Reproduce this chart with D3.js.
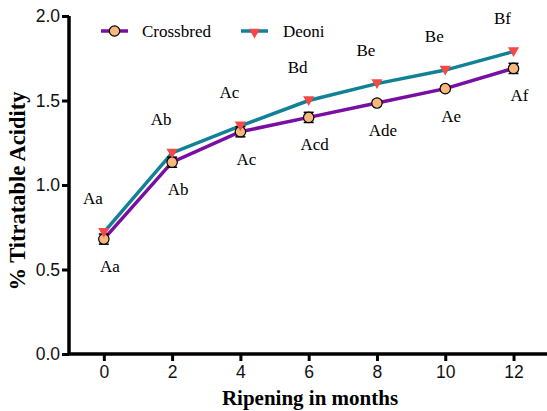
<!DOCTYPE html>
<html>
<head>
<meta charset="utf-8">
<script src="https://cdn.jsdelivr.net/npm/d3@7"></script>
<style>
  body { margin: 0; background: #fff; }
  svg { display: block; }
</style>
</head>
<body>
<div id="okvir"></div>
<script>
// data
const months = [0, 2, 4, 6, 8, 10, 12]
const crossbred = [0.68, 1.135, 1.315, 1.40, 1.485, 1.57, 1.69]
const crossbredErr = [0.03, 0.03, 0.03, 0.03, 0.015, 0.015, 0.03]
const deoni = [0.72, 1.19, 1.35, 1.50, 1.60, 1.68, 1.79]
const crossbredLabels = ["Aa", "Ab", "Ac", "Acd", "Ade", "Ae", "Af"]
const deoniLabels = ["Aa", "Ab", "Ac", "Bd", "Be", "Be", "Bf"]
const yTicks = [0.0, 0.5, 1.0, 1.5, 2.0]
const xTicks = [0, 2, 4, 6, 8, 10, 12]

const sirina = 547, visina = 411
const margine = { top: 16, right: 0, bottom: 57, left: 69 }
const grSirina = sirina - margine.left - margine.right
const grVisina = visina - margine.top - margine.bottom

const okvir = d3.select("#okvir").append("svg")
  .attr("width", sirina)
  .attr("height", visina)

const granice = okvir.append("g")
  .attr("transform", `translate(${margine.left},${margine.top})`)

const xSkala = d3.scaleLinear().domain([-1.02, 12.98]).range([0, grSirina])
const ySkala = d3.scaleLinear().domain([0, 2]).range([grVisina, 0])

const boja1 = "#7a0ea3"
const boja2 = "#118196"

// lines
const linija = d3.line()
  .x((d, i) => xSkala(months[i]))
  .y(d => ySkala(d))

granice.append("path").datum(deoni)
  .attr("d", linija).attr("fill", "none")
  .attr("stroke", boja2).attr("stroke-width", 3.5)
granice.append("path").datum(crossbred)
  .attr("d", linija).attr("fill", "none")
  .attr("stroke", boja1).attr("stroke-width", 3.5)

// error bars
const greske = granice.append("g")
crossbred.forEach((v, i) => {
  const x = xSkala(months[i])
  const y0 = ySkala(v - crossbredErr[i]), y1 = ySkala(v + crossbredErr[i])
  greske.append("line").attr("x1", x).attr("x2", x).attr("y1", y0).attr("y2", y1)
    .attr("stroke", "#000").attr("stroke-width", 1.2)
  greske.append("line").attr("x1", x - 5).attr("x2", x + 5).attr("y1", y0).attr("y2", y0)
    .attr("stroke", "#000").attr("stroke-width", 1.5)
  greske.append("line").attr("x1", x - 5).attr("x2", x + 5).attr("y1", y1).attr("y2", y1)
    .attr("stroke", "#000").attr("stroke-width", 1.5)
})

// points
granice.append("g").selectAll("circle").data(crossbred).join("circle")
  .attr("cx", (d, i) => xSkala(months[i]))
  .attr("cy", d => ySkala(d))
  .attr("r", 5.2)
  .attr("fill", "#f6b87c").attr("stroke", "#000").attr("stroke-width", 1.2)

const trokut = d3.symbol().type(d3.symbolTriangle).size(55)
granice.append("g").selectAll("path").data(deoni).join("path")
  .attr("d", trokut)
  .attr("transform", (d, i) => `translate(${xSkala(months[i])},${ySkala(d) - 1}) rotate(180)`)
  .attr("fill", "#f54848")

// letters
const serif = "Liberation Serif, Tinos, Times New Roman, DejaVu Serif, serif"
granice.append("g").selectAll("text").data(deoniLabels).join("text")
  .attr("x", (d, i) => xSkala(months[i]) - 11)
  .attr("y", (d, i) => ySkala(deoni[i]) - 28)
  .attr("text-anchor", "middle")
  .style("font-family", serif).style("font-size", "17px")
  .text(d => d)
granice.append("g").selectAll("text").data(crossbredLabels).join("text")
  .attr("x", (d, i) => xSkala(months[i]) + 6)
  .attr("y", (d, i) => ySkala(crossbred[i]) + 33)
  .attr("text-anchor", "middle")
  .style("font-family", serif).style("font-size", "17px")
  .text(d => d)

// axes
const xOs = granice.append("g")
  .attr("transform", `translate(0,${grVisina})`)
  .call(d3.axisBottom(xSkala).tickValues(xTicks).tickSize(7).tickPadding(5).tickFormat(d3.format("d")))
const yOs = granice.append("g")
  .call(d3.axisLeft(ySkala).tickValues(yTicks).tickSize(7).tickPadding(2).tickFormat(d3.format(".1f")))

;[xOs, yOs].forEach(os => {
  os.select(".domain").attr("stroke", "#000").attr("stroke-width", 3.5)
  os.selectAll(".tick line").attr("stroke", "#000").attr("stroke-width", 3)
  os.selectAll(".tick text").attr("fill", "#111")
    .style("font-family", "Liberation Sans, Arial, sans-serif").style("font-size", "17.5px")
})
xOs.select(".domain").attr("d", `M0,0H${grSirina}`)
yOs.select(".domain").attr("d", `M0,0V${grVisina}`)

okvir.append("text")
  .attr("x", 310)
  .attr("y", 405)
  .attr("text-anchor", "middle")
  .style("font-family", serif).style("font-weight", "bold").style("font-size", "21px")
  .text("Ripening in months")

okvir.append("text")
  .attr("transform", `translate(25,191) rotate(-90)`)
  .attr("text-anchor", "middle")
  .style("font-family", serif).style("font-weight", "bold").style("font-size", "22.5px")
  .text("% Titratable Acidity")

// legend
const legenda = okvir.append("g")
const l1 = legenda.append("g").attr("transform", "translate(101,31)")
l1.append("line").attr("x1", 0).attr("x2", 27).attr("stroke", boja1).attr("stroke-width", 3.5)
l1.append("circle").attr("cx", 13.5).attr("r", 5.2)
  .attr("fill", "#f6b87c").attr("stroke", "#000").attr("stroke-width", 1.2)
l1.append("text").attr("x", 41).attr("y", 6).style("font-family", serif).style("font-size", "17px").text("Crossbred")

const l2 = legenda.append("g").attr("transform", "translate(241,31)")
l2.append("line").attr("x1", 0).attr("x2", 27).attr("stroke", boja2).attr("stroke-width", 3.5)
l2.append("path").attr("d", trokut).attr("transform", "translate(13.5,1) rotate(180)").attr("fill", "#f54848")
l2.append("text").attr("x", 42).attr("y", 6).style("font-family", serif).style("font-size", "17px").text("Deoni")
</script>
</body>
</html>
